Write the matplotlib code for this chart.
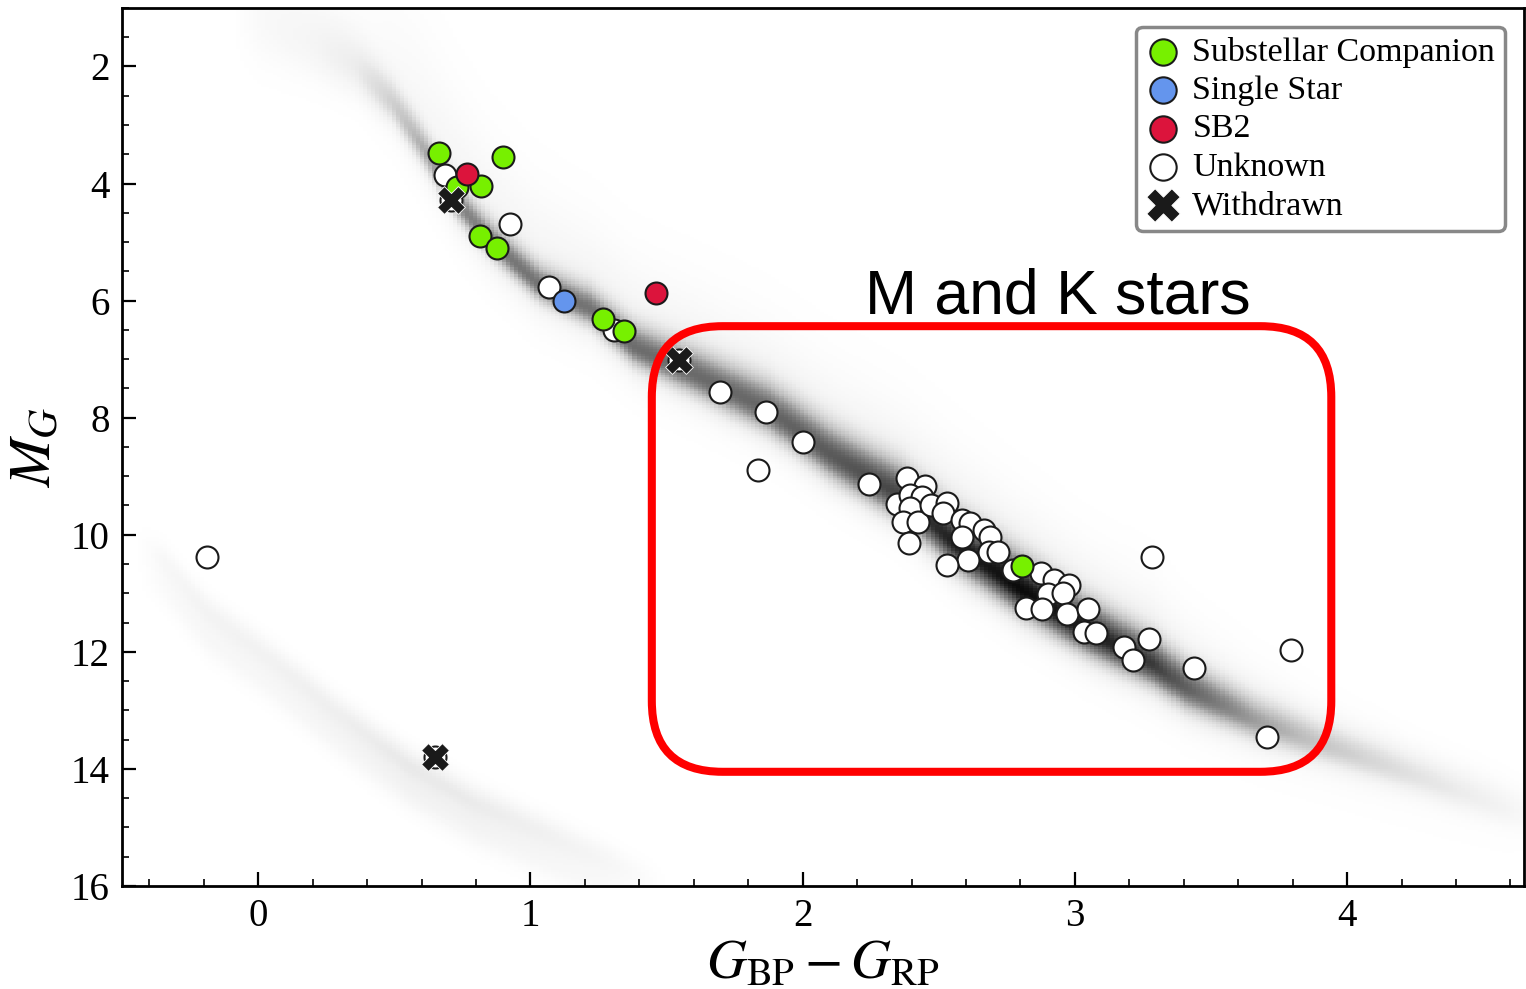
import numpy as np
import matplotlib.pyplot as plt
from matplotlib.patches import FancyBboxPatch
from matplotlib.ticker import MultipleLocator

plt.rcParams['font.family'] = ['Liberation Serif', 'DejaVu Serif']
plt.rcParams['mathtext.fontset'] = 'stix'

# targets, by classification (Gaia BP-RP colour, absolute G magnitude)
comp_bprp = [0.666, 0.898, 0.817, 0.729, 0.813, 0.876, 1.266, 1.343, 2.805]
comp_mg = [3.48, 3.55, 4.05, 4.06, 4.90, 5.11, 6.32, 6.52, 10.53]

single_bprp = [1.123]
single_mg = [6.01]

sb2_bprp = [0.766, 1.461]
sb2_mg = [3.84, 5.87]

unk_bprp = [0.685, 0.924, 1.067, 1.307, 1.697, 1.866, 1.837, 2.002, 2.245,
            2.385, 2.448, 2.348, 2.396, 2.437, 2.396, 2.367, 2.425, 2.392,
            2.470, 2.532, 2.517, 2.587, 2.613, 2.587, 2.665, 2.690, 2.683,
            2.716, 2.606, 2.532, 2.771, 2.874, 2.922, 2.978, 2.900, 2.955,
            2.819, 2.878, 2.970, 3.047, 3.033, 3.077, 3.180, 3.213, 3.272,
            3.283, 3.438, 3.795, 3.706, -0.188]
unk_mg = [3.86, 4.70, 5.77, 6.51, 7.56, 7.90, 8.89, 8.42, 9.13,
          9.03, 9.17, 9.47, 9.32, 9.35, 9.54, 9.78, 9.78, 10.14,
          9.49, 9.46, 9.63, 9.75, 9.80, 10.04, 9.92, 10.04, 10.29,
          10.29, 10.43, 10.52, 10.60, 10.65, 10.77, 10.86, 11.01, 10.99,
          11.25, 11.27, 11.35, 11.27, 11.66, 11.68, 11.91, 12.14, 11.78,
          10.38, 12.27, 11.97, 13.45, 10.38]

wd_bprp_t = [0.710, 1.546, 0.651]
wd_mg_t = [4.29, 7.02, 13.79]

# ridge of the background field-star main sequence
ms_bprp = [-0.10, 0.00, 0.20, 0.35, 0.48, 0.60, 0.72, 0.85, 1.03, 1.21,
           1.38, 1.62, 1.87, 2.11, 2.36, 2.54, 2.79, 3.03, 3.28, 3.40, 3.65,
           3.89, 4.26, 4.57, 4.75]
ms_mg = [1.0, 1.2, 1.6, 2.0, 2.6, 3.4, 4.3, 4.99, 5.74, 6.13,
         6.8, 7.31, 7.87, 8.67, 9.35, 10.1, 10.9, 11.6, 12.2, 12.6, 13.15,
         13.55, 14.13, 14.65, 14.9]
ms_peak = [0.0, 0.04, 0.07, 0.12, 0.24, 0.36, 0.46, 0.50, 0.52, 0.52,
           0.54, 0.55, 0.56, 0.60, 0.66, 0.74, 0.80, 0.76, 0.68, 0.58, 0.40,
           0.28, 0.16, 0.08, 0.0]
ms_sig = [0.5, 0.5, 0.4, 0.3, 0.22, 0.2, 0.19, 0.19, 0.19, 0.2,
          0.22, 0.25, 0.27, 0.28, 0.29, 0.3, 0.3, 0.28, 0.26, 0.25, 0.23,
          0.21, 0.2, 0.2, 0.2]
ms_halo = [1.3, 1.3, 1.3, 1.3, 1.3, 1.2, 1.1, 1.0, 0.95, 0.9,
           0.9, 0.9, 0.9, 0.9, 0.9, 0.9, 0.85, 0.8, 0.8, 0.7, 0.6,
           0.5, 0.4, 0.4, 0.4]

# ridge of the white dwarf sequence
wd_bprp = [-0.45, -0.35, -0.20, 0.05, 0.29, 0.54, 0.78, 1.03, 1.27, 1.50]
wd_mg = [10.1, 10.46, 11.28, 12.14, 13.04, 13.89, 14.53, 15.04, 15.55, 16.0]
wd_peak = [0.0, 0.06, 0.09, 0.10, 0.12, 0.15, 0.14, 0.11, 0.07, 0.0]

# background density map
step_x, step_y = 0.015, 0.04
xg = np.arange(-0.5, 4.65, step_x)
yg = np.arange(1.0, 16.0, step_y)
X, Y = np.meshgrid(xg, yg)

yc = np.interp(xg, ms_bprp, ms_mg)
pk = np.interp(xg, ms_bprp, ms_peak, left=0, right=0)
sg = np.interp(xg, ms_bprp, ms_sig)[None, :]
hl = np.interp(xg, ms_bprp, ms_halo)[None, :]
dy = Y - yc[None, :]
core = np.exp(-0.5 * (dy / np.where(dy < 0, 1.3 * sg, sg)) ** 2)
halo = np.exp(-0.5 * (dy / np.where(dy < 0, hl, 0.45)) ** 2)
dens = pk[None, :] * (core + 0.2 * halo)

wyc = np.interp(xg, wd_bprp, wd_mg)
wpk = np.interp(xg, wd_bprp, wd_peak, left=0, right=0)
wdy = Y - wyc[None, :]
dens += wpk[None, :] * (np.exp(-0.5 * (wdy / 0.2) ** 2)
                        + 0.6 * np.exp(-0.5 * ((wdy - 0.45) / 0.22) ** 2))
dens = np.clip(dens, 0, 1)

fig = plt.figure(figsize=(15.26, 9.89), dpi=100)
ax = fig.add_axes([0.0800, 0.1042, 0.9187, 0.8878])

ax.imshow(dens, extent=[xg[0], xg[-1] + step_x, 16.0, 1.0], origin='upper',
          cmap='Greys', vmin=0, vmax=1, aspect='auto',
          interpolation='nearest', zorder=0)

kw = dict(s=250, edgecolors='#1a1a1a', linewidths=1.5)
ax.scatter(unk_bprp, unk_mg, c='white', label='Unknown', zorder=3, **kw)
ax.scatter(wd_bprp_t, wd_mg_t, c='white', zorder=3, **kw)
ax.scatter(comp_bprp, comp_mg, c='#77f000', label='Substellar Companion',
           zorder=4, **kw)
ax.scatter(single_bprp, single_mg, c='cornflowerblue', label='Single Star',
           zorder=5, **kw)
ax.scatter(sb2_bprp, sb2_mg, c='crimson', label='SB2', zorder=6, **kw)
ax.scatter(wd_bprp_t, wd_mg_t, marker='X', s=400, c='#1a1a1a',
           edgecolors='white', linewidths=0.6, label='Withdrawn', zorder=7)

ax.set_xlim(-0.5, 4.65)
ax.set_ylim(16, 1.0)

# box around the M and K dwarfs
box_x = [1.446, 3.942]
box_y = [6.437, 14.05]
fig.canvas.draw()
bb = ax.get_window_extent()
aspect = (15.0 / bb.height) / (5.15 / bb.width)
rect = FancyBboxPatch((box_x[0], box_y[0]), box_x[1] - box_x[0],
                      box_y[1] - box_y[0],
                      boxstyle='round,pad=0,rounding_size=0.26',
                      mutation_aspect=aspect, fill=False, edgecolor='red',
                      linewidth=5.8, zorder=8)
ax.add_patch(rect)
ax.text(2.937, 6.22, 'M and K stars', fontsize=45, family='Liberation Sans',
        ha='center', va='baseline', zorder=9)

ax.xaxis.set_major_locator(MultipleLocator(1))
ax.xaxis.set_minor_locator(MultipleLocator(0.2))
ax.yaxis.set_minor_locator(MultipleLocator(0.5))
ax.set_yticks([2, 4, 6, 8, 10, 12, 14, 16])
ax.tick_params(which='both', direction='in', top=False, right=False,
               labelsize=28)
ax.tick_params(which='major', length=10, width=1.6, pad=9)
ax.tick_params(which='minor', length=5, width=1.2)
for sp in ax.spines.values():
    sp.set_linewidth(2)

ax.set_xlabel(r'$G_{\rm BP} - G_{\rm RP}$', fontsize=40, labelpad=2)
ax.set_ylabel(r'$M_G$', fontsize=42, labelpad=6)

handles, labels = ax.get_legend_handles_labels()
order = ['Substellar Companion', 'Single Star', 'SB2', 'Unknown', 'Withdrawn']
hmap = dict(zip(labels, handles))
leg = ax.legend([hmap[l] for l in order], order, loc='upper right',
                fontsize=24.5, fancybox=True, framealpha=1,
                edgecolor='#888888', borderaxespad=0.55, borderpad=0.3,
                labelspacing=0.22, handletextpad=0.35, handlelength=1.0,
                markerscale=1.2)
leg.get_frame().set_linewidth(2.5)
leg.set_zorder(10)

fig.savefig('out.png', dpi=100)
